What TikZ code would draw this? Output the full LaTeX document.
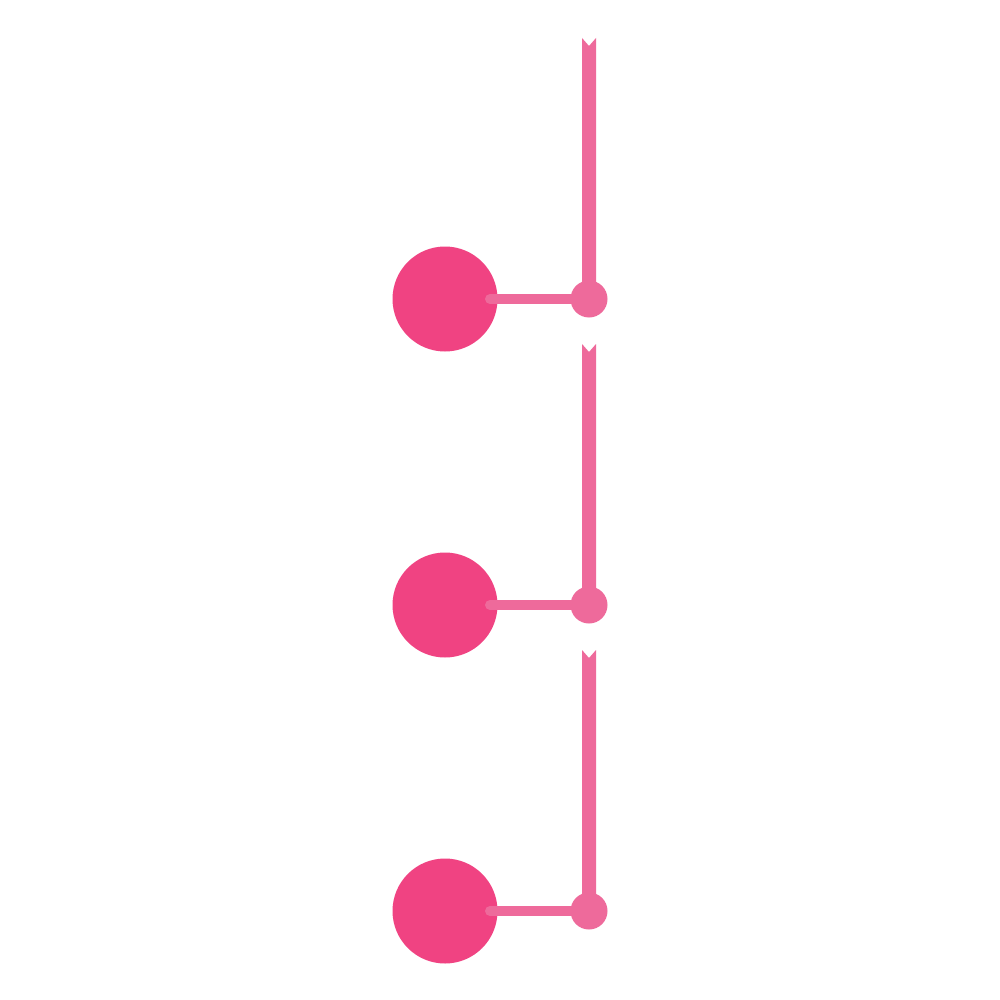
\documentclass[tikz,border=0pt]{standalone}
\definecolor{bigpink}{HTML}{F04382}
\definecolor{lightpink}{HTML}{EE6A9B}
\begin{document}
\begin{tikzpicture}[x=1pt,y=-1pt,
  bigdot/.style={circle,fill=bigpink,minimum size=105pt,inner sep=0pt},
  smalldot/.style={circle,fill=lightpink,minimum size=37pt,inner sep=0pt},
  link/.style={draw=lightpink,line width=10pt,line cap=round},
  barfill/.style={fill=lightpink}]
\useasboundingbox[fill=white] (0,0) rectangle (1000,1000);
\foreach \i/\y/\t in {1/299/38,2/605/344,3/911/650}{
  \coordinate (top\i) at (589,\t);
  \fill[barfill] (582,\t) -- (589,\t+8) -- (596,\t) -- (596,\y) -- (582,\y) -- cycle;
  \node[bigdot] (big\i) at (445,\y) {};
  \node[smalldot] (small\i) at (589,\y) {};
  \draw[link] (big\i.center) ++(45,0) coordinate (l\i) -- (small\i.west);
}
\end{tikzpicture}
\end{document}
